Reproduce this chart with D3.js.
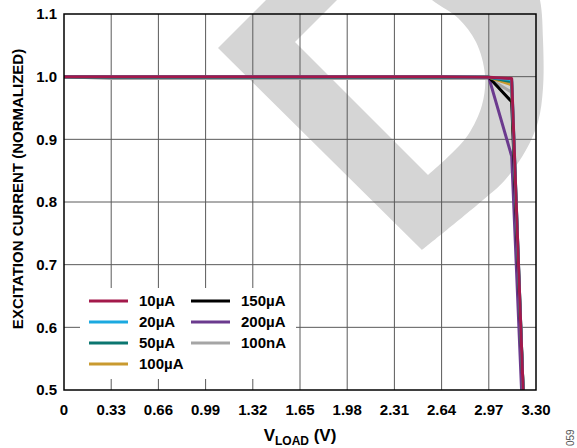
<!DOCTYPE html>
<html><head><meta charset="utf-8">
<script src="https://cdn.jsdelivr.net/npm/d3@7/dist/d3.min.js"></script>
<style>
body{margin:0;background:#fff}
svg{display:block}
text{font-family:Arial,"Liberation Sans",Helvetica,sans-serif;font-weight:bold;fill:#000}
</style>
</head><body>
<svg id="chart" width="577" height="448"></svg>
<script>
// ---- data ----
const xTicks = [0, 0.33, 0.66, 0.99, 1.32, 1.65, 1.98, 2.31, 2.64, 2.97, 3.30];
const xTickLabels = ["0", "0.33", "0.66", "0.99", "1.32", "1.65", "1.98", "2.31", "2.64", "2.97", "3.30"];
const yTicks = [0.5, 0.6, 0.7, 0.8, 0.9, 1.0, 1.1];
const yTickLabels = ["0.5", "0.6", "0.7", "0.8", "0.9", "1.0", "1.1"];

const vLoad   = [0, 0.33, 0.66, 0.99, 1.32, 1.65, 1.98, 2.31, 2.64, 2.97, 3.13, 3.21];
const i10uA   = [1.000, 1.000, 1.000, 1.000, 1.000, 1.000, 1.000, 1.000, 1.000, 0.999, 0.997, 0.50];
const i20uA   = [1.000, 1.000, 1.000, 1.000, 1.000, 1.000, 1.000, 1.000, 1.000, 0.999, 0.995, 0.50];
const i50uA   = [1.000, 0.999, 0.999, 0.999, 0.999, 0.999, 0.999, 0.999, 0.999, 0.999, 0.992, 0.50];
const i100uA  = [1.000, 0.999, 0.999, 0.999, 0.999, 0.999, 0.999, 0.999, 0.999, 0.999, 0.987, 0.50];
const i150uA  = [1.000, 0.999, 0.999, 0.999, 0.999, 0.999, 0.999, 0.999, 0.999, 0.999, 0.960, 0.50];
const i200uA  = [1.000, 0.999, 0.999, 0.999, 0.999, 0.999, 0.999, 0.999, 0.999, 0.999, 0.873, 0.44];
const i100nA  = [1.000, 0.997, 0.997, 0.997, 0.997, 0.997, 0.997, 0.997, 0.997, 0.997, 0.975, 0.50];

const seriesNames  = ["10µA", "20µA", "50µA", "100µA", "150µA", "200µA", "100nA"];
const seriesValues = [i10uA, i20uA, i50uA, i100uA, i150uA, i200uA, i100nA];
const seriesColors = ["#a3194b", "#1ba9e0", "#0b7670", "#c99a2f", "#000000", "#6b3a8e", "#a5a5a5"];

// ---- layout ----
const W = 577, H = 448;
const L = 64, R = 536, T = 14, B = 390;
const svg = d3.select("#chart");
const x = d3.scaleLinear().domain([0, 3.3]).range([L, R]);
const y = d3.scaleLinear().domain([0.5, 1.1]).range([B, T]);

// watermark (decorative logo)
const outerEdge = d3.line().curve(d3.curveCatmullRom)([
  [530,-30],[540,0],[543,40],[543,88],[538,122],[526,150],[505,180],[483,200],[422,250]
]);
const innerEdge = d3.line().curve(d3.curveCatmullRom)([
  [400,-30],[432,0],[458,18],[476,42],[485,75],[482,105],[468,135],[450,155],[428,175]
]);
const wm = "M218,48 L296,-30 L530,-30 " + outerEdge.replace(/^M[^C L]*/, "") + " Z " +
           "M295,42 L367,-30 L400,-30 " + innerEdge.replace(/^M[^C L]*/, "") + " Z";
svg.append("path").attr("d", wm).attr("fill", "#d5d5d5").attr("fill-rule", "evenodd");

// grid
svg.append("g").selectAll("line").data(xTicks.slice(1, -1)).join("line")
  .attr("x1", d => x(d)).attr("x2", d => x(d)).attr("y1", T).attr("y2", B)
  .attr("stroke", "#5a5a5a").attr("stroke-width", 1);
svg.append("g").selectAll("line").data(yTicks.slice(1, -1)).join("line")
  .attr("y1", d => y(d)).attr("y2", d => y(d)).attr("x1", L).attr("x2", R)
  .attr("stroke", "#5a5a5a").attr("stroke-width", 1);

// legend box (white background covering grid)
const lg = svg.append("g");
lg.append("rect").attr("x", 80).attr("y", 288).attr("width", 216).attr("height", 91).attr("fill", "#fff");

// clip
svg.append("clipPath").attr("id", "clip").append("rect")
  .attr("x", L).attr("y", T).attr("width", R - L).attr("height", B - T);

// data lines
const line = d3.line().x(d => x(d[0])).y(d => y(d[1]));
const plotG = svg.append("g").attr("clip-path", "url(#clip)");
const order = [6, 5, 4, 3, 2, 1, 0];
order.forEach(k => {
  plotG.append("path")
    .attr("d", line(vLoad.map((v, i) => [v, seriesValues[k][i]])))
    .attr("fill", "none").attr("stroke", seriesColors[k]).attr("stroke-width", 3)
    .attr("stroke-linejoin", "round");
});

// frame
svg.append("rect").attr("x", L).attr("y", T).attr("width", R - L).attr("height", B - T)
  .attr("fill", "none").attr("stroke", "#000").attr("stroke-width", 1.5);

// tick labels
svg.append("g").selectAll("text").data(xTicks).join("text")
  .attr("x", d => x(d)).attr("y", 415).attr("text-anchor", "middle")
  .attr("font-size", 15).text((d, i) => xTickLabels[i]);
svg.append("g").selectAll("text").data(yTicks).join("text")
  .attr("x", 57).attr("y", d => y(d)).attr("dy", "0.36em").attr("text-anchor", "end")
  .attr("font-size", 15).text((d, i) => yTickLabels[i]);

// axis titles
const xt = svg.append("text").attr("x", 300).attr("y", 441).attr("text-anchor", "middle").attr("font-size", 17);
xt.append("tspan").text("V");
xt.append("tspan").attr("font-size", 12).attr("dy", 4).text("LOAD");
xt.append("tspan").attr("dy", -4).text(" (V)");

svg.append("text").attr("transform", "translate(23,189) rotate(-90)")
  .attr("text-anchor", "middle").attr("font-size", 15)
  .text("EXCITATION CURRENT (NORMALIZED)");

// legend entries
const legPos = [[89, 301], [89, 322], [89, 343], [89, 364], [191, 301], [191, 322], [191, 343]];
seriesNames.forEach((n, k) => {
  const [lx, ly] = legPos[k];
  lg.append("line").attr("x1", lx).attr("x2", lx + 39).attr("y1", ly).attr("y2", ly)
    .attr("stroke", seriesColors[k]).attr("stroke-width", 3);
  lg.append("text").attr("x", lx + 50).attr("y", ly).attr("dy", "0.36em")
    .attr("font-size", 15).text(n);
});

// figure id
svg.append("text").attr("transform", "translate(574,446) rotate(-90)")
  .attr("font-size", 10).attr("font-weight", "normal").style("font-weight", "normal")
  .attr("fill", "#555").style("fill", "#555").text("059");
</script>
</body></html>
